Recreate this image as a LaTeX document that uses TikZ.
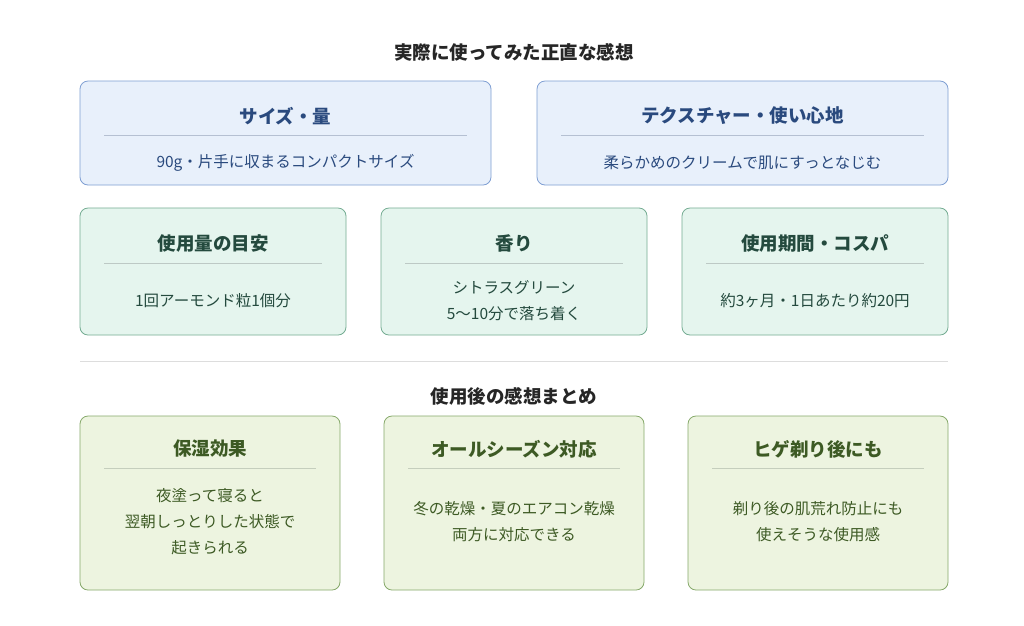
\documentclass[tikz,border=0pt]{standalone}
\usepackage{fontspec}
\setmainfont{Noto Sans CJK JP}
\begin{document}
\begin{tikzpicture}[x=1pt,y=-1pt,
 ttl/.style={font=\fontsize{18.5}{22}\selectfont\bfseries,text=#1},
 bdy/.style={font=\fontsize{15.5}{26}\selectfont,text=#1,align=center}]
\definecolor{bfill}{HTML}{E8F0FB}\definecolor{bline}{HTML}{7F9FD3}\definecolor{btxt}{HTML}{2A4A7E}
\definecolor{tfill}{HTML}{E5F5EE}\definecolor{tline}{HTML}{74AC92}\definecolor{ttxt}{HTML}{244A3E}
\definecolor{gfill}{HTML}{EDF4E0}\definecolor{gline}{HTML}{86A96A}\definecolor{gtxt}{HTML}{3D5A24}
\definecolor{sep}{HTML}{DDDDDD}
\useasboundingbox[fill=white] (0,0) rectangle (1024,625);
\node[font=\fontsize{18.5}{22}\selectfont\bfseries,text=black!85] (t1) at (514,52) {実際に使ってみた正直な感想};
% row1
\foreach \n/\xa/\xb/\ti/\bo in {a/80/491/サイズ・量/90g・片手に収まるコンパクトサイズ, b/537/948/テクスチャー・使い心地/柔らかめのクリームで肌にすっとなじむ}{
 \draw[fill=bfill,draw=bline,line width=0.8pt,rounded corners=8pt] (\xa,81) rectangle (\xb,185);
 \node[ttl=btxt] (\n t) at ({(\xa+\xb)/2},116) {\ti};
 \draw[btxt!35] ({\xa+24},135) -- ({\xb-24},135);
 \node[bdy=btxt] (\n b) at ({(\xa+\xb)/2},163) {\bo};
}
% row2
\foreach \n/\xa/\xb/\ti/\bo in {c/80/346/使用量の目安/1回アーモンド粒1個分, d/381/647/香り/{シトラスグリーン\\5〜10分で落ち着く}, e/682/948/使用期間・コスパ/約3ヶ月・1日あたり約20円}{
 \draw[fill=tfill,draw=tline,line width=0.8pt,rounded corners=8pt] (\xa,208) rectangle (\xb,335);
 \node[ttl=ttxt] (\n t) at ({(\xa+\xb)/2},243) {\ti};
 \draw[ttxt!30] ({\xa+24},263) -- ({\xb-24},263);
 \node[bdy=ttxt] (\n b) at ({(\xa+\xb)/2},301) {\bo};
}
\draw[sep,line width=0.8pt] (80,361) -- (948,361);
\node[font=\fontsize{18.5}{22}\selectfont\bfseries,text=black!85] (t2) at (514,396) {使用後の感想まとめ};
% row3
\foreach \n/\xa/\xb/\ti/\bo in {f/80/340/保湿効果/{夜塗って寝ると\\翌朝しっとりした状態で\\起きられる}, g/384/644/オールシーズン対応/{冬の乾燥・夏のエアコン乾燥\\両方に対応できる}, h/688/948/ヒゲ剃り後にも/{剃り後の肌荒れ防止にも\\使えそうな使用感}}{
 \draw[fill=gfill,draw=gline,line width=0.8pt,rounded corners=8pt] (\xa,416) rectangle (\xb,590);
 \node[ttl=gtxt] (\n t) at ({(\xa+\xb)/2},449) {\ti};
 \draw[gtxt!30] ({\xa+24},468) -- ({\xb-24},468);
 \node[bdy=gtxt] (\n b) at ({(\xa+\xb)/2},522) {\bo};
}
\end{tikzpicture}
\end{document}
